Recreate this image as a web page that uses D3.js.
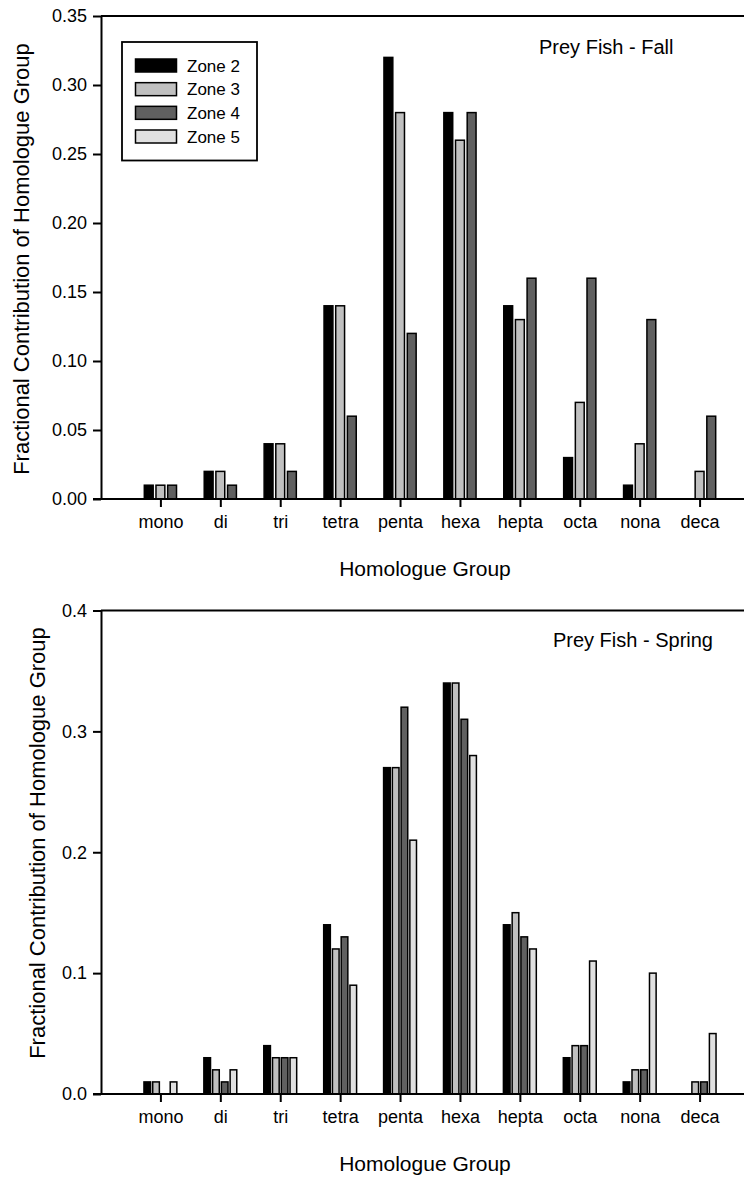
<!DOCTYPE html>
<html>
<head>
<meta charset="utf-8">
<script src="https://cdn.jsdelivr.net/npm/d3@7"></script>
<style>
  html, body { margin: 0; padding: 0; background: #fff; }
  svg { display: block; }
  text { font-family: "Liberation Sans", Arial, sans-serif; fill: #000; }
</style>
</head>
<body>
<svg id="chart" width="744" height="1178"></svg>
<script>
// ---------- data ----------
const categories = ["mono", "di", "tri", "tetra", "penta", "hexa", "hepta", "octa", "nona", "deca"];

const fallZones = ["Zone 2", "Zone 3", "Zone 4"];
const fallZone2 = [0.01, 0.02, 0.04, 0.14, 0.32, 0.28, 0.14, 0.03, 0.01, 0.00];
const fallZone3 = [0.01, 0.02, 0.04, 0.14, 0.28, 0.26, 0.13, 0.07, 0.04, 0.02];
const fallZone4 = [0.01, 0.01, 0.02, 0.06, 0.12, 0.28, 0.16, 0.16, 0.13, 0.06];

const springZones = ["Zone 2", "Zone 3", "Zone 4", "Zone 5"];
const springZone2 = [0.01, 0.03, 0.04, 0.14, 0.27, 0.34, 0.14, 0.03, 0.01, 0.00];
const springZone3 = [0.01, 0.02, 0.03, 0.12, 0.27, 0.34, 0.15, 0.04, 0.02, 0.01];
const springZone4 = [0.00, 0.01, 0.03, 0.13, 0.32, 0.31, 0.13, 0.04, 0.02, 0.01];
const springZone5 = [0.01, 0.02, 0.03, 0.09, 0.21, 0.28, 0.12, 0.11, 0.10, 0.05];

const legendZones = ["Zone 2", "Zone 3", "Zone 4", "Zone 5"];
const fallTicks = [0.00, 0.05, 0.10, 0.15, 0.20, 0.25, 0.30, 0.35];
const springTicks = [0.0, 0.1, 0.2, 0.3, 0.4];

const zoneColors = { "Zone 2": "#000000", "Zone 3": "#c0c0c0", "Zone 4": "#606060", "Zone 5": "#e0e0e0" };

// ---------- drawing ----------
const svg = d3.select("#chart");
svg.append("rect").attr("width", 744).attr("height", 1178).attr("fill", "#fff");

const axisX0 = 101;
const frameRight = 759.5;
const x = d3.scaleLinear().domain([0, categories.length + 1]).range([100.5, frameRight]);

function panel(opts) {
  const { zones, series, yMax, yTop, yBottom, ticks, fmt, title, titleX, titleY, titleAnchor, yTitleX, yTitleY } = opts;
  const g = svg.append("g");
  const y = d3.scaleLinear().domain([0, yMax]).range([yBottom, yTop]);

  const inner = d3.scaleBand().domain(zones).range([-17.5, 17.5]).paddingInner(0.24).paddingOuter(0.12);

  // bars
  zones.forEach((z, zi) => {
    const vals = series[zi];
    g.append("g").selectAll("rect")
      .data(vals.map((v, i) => ({ v, i })).filter(d => d.v > 0))
      .join("rect")
      .attr("x", d => x(d.i + 1) + inner(z))
      .attr("width", inner.bandwidth())
      .attr("y", d => y(d.v))
      .attr("height", d => y(0) - y(d.v))
      .attr("fill", zoneColors[z])
      .attr("stroke", "#000")
      .attr("stroke-width", 1.5);
  });

  // frame top / right
  g.append("line").attr("x1", axisX0).attr("x2", frameRight).attr("y1", y(yMax)).attr("y2", y(yMax))
    .attr("stroke", "#000").attr("stroke-width", 2);
  g.append("line").attr("x1", frameRight).attr("x2", frameRight).attr("y1", y(yMax)).attr("y2", y(0))
    .attr("stroke", "#000").attr("stroke-width", 2);

  // y axis
  const ya = g.append("g").attr("transform", `translate(${axisX0},0)`)
    .call(d3.axisLeft(y).tickValues(ticks).tickFormat(d3.format(fmt)).tickSize(8).tickSizeOuter(0).tickPadding(6));
  ya.select(".domain").attr("stroke-width", 2);
  ya.selectAll(".tick line").attr("stroke-width", 2);
  ya.selectAll(".tick text").style("font-size", "18px").style("font-family", "'Liberation Sans', Arial, sans-serif");

  // x axis
  const xa = g.append("g").attr("transform", `translate(0,${y(0)})`)
    .call(d3.axisBottom(x).tickValues(d3.range(1, categories.length + 1)).tickFormat(i => categories[i - 1])
      .tickSize(8).tickSizeOuter(0).tickPadding(8));
  xa.select(".domain").remove();
  xa.selectAll(".tick line").attr("stroke-width", 2);
  xa.selectAll(".tick text").style("font-size", "18px").style("font-family", "'Liberation Sans', Arial, sans-serif");
  g.append("line").attr("x1", axisX0 - 8).attr("x2", frameRight).attr("y1", y(0)).attr("y2", y(0))
    .attr("stroke", "#000").attr("stroke-width", 2);

  // axis titles
  g.append("text").attr("x", 425).attr("y", y(0) + 77).attr("text-anchor", "middle")
    .style("font-size", "21px").text("Homologue Group");
  g.append("text").attr("transform", `translate(${yTitleX},${yTitleY}) rotate(-90)`)
    .attr("text-anchor", "middle").style("font-size", "22px")
    .text("Fractional Contribution of Homologue Group");

  // panel title
  g.append("text").attr("x", titleX).attr("y", titleY).attr("text-anchor", titleAnchor)
    .style("font-size", "20px").text(title);
  return { g, y };
}

panel({
  zones: fallZones, series: [fallZone2, fallZone3, fallZone4], yMax: 0.35, yTop: 16, yBottom: 499,
  ticks: fallTicks, fmt: ".2f", title: "Prey Fish - Fall", titleX: 539, titleY: 54, titleAnchor: "start",
  yTitleX: 29, yTitleY: 259
});
panel({
  zones: springZones, series: [springZone2, springZone3, springZone4, springZone5], yMax: 0.4, yTop: 610.5, yBottom: 1094,
  ticks: springTicks, fmt: ".1f", title: "Prey Fish - Spring", titleX: 713, titleY: 647, titleAnchor: "end",
  yTitleX: 45, yTitleY: 843
});

// legend
const lg = svg.append("g");
lg.append("rect").attr("x", 122).attr("y", 42).attr("width", 135).attr("height", 118.5)
  .attr("fill", "#fff").attr("stroke", "#000").attr("stroke-width", 1.8);
const ly = d3.scalePoint().domain(legendZones).range([65.5, 136.5]);
legendZones.forEach(z => {
  lg.append("rect").attr("x", 135.5).attr("y", ly(z) - 6.5).attr("width", 41).attr("height", 13)
    .attr("fill", zoneColors[z]).attr("stroke", "#000").attr("stroke-width", 1.5);
  lg.append("text").attr("x", 187).attr("y", ly(z) + 6).style("font-size", "17px").text(z);
});
</script>
</body>
</html>
